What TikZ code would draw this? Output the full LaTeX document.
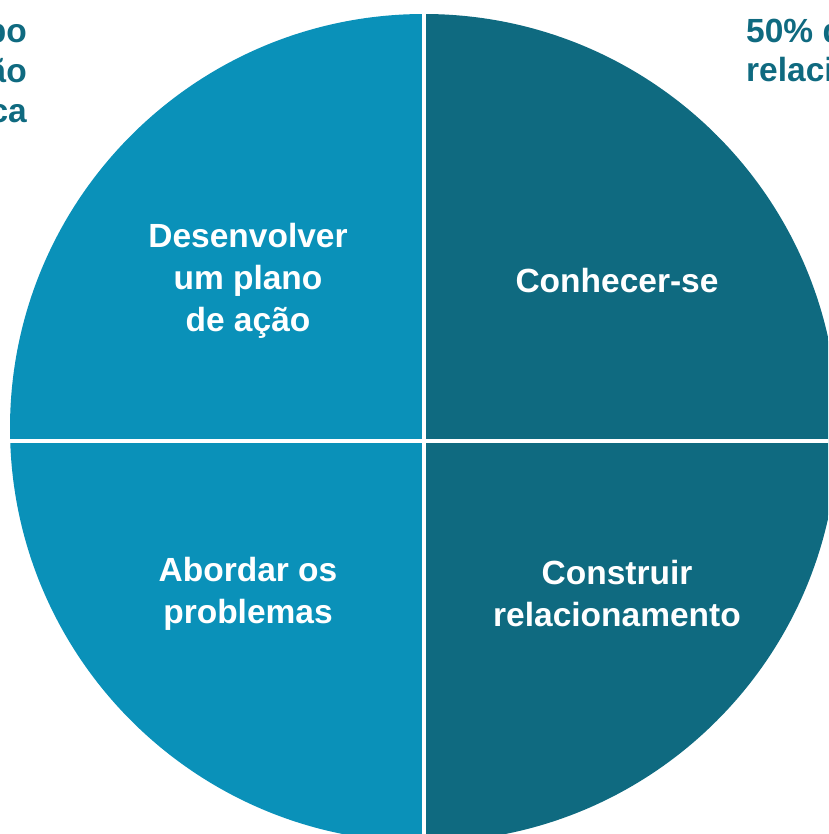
\documentclass[tikz,border=0pt]{standalone}
\usepackage{fontspec}
\setmainfont{Liberation Sans}
\definecolor{lightteal}{HTML}{0A91B9}
\definecolor{darkteal}{HTML}{0F6A80}
\tikzset{
  quad/.style={text=white, font=\bfseries\fontsize{33.5}{42}\selectfont, align=center, inner sep=0pt},
  corner/.style={text=darkteal, font=\bfseries\fontsize{33.5}{40}\selectfont, inner sep=0pt},
  divider/.style={white, line width=3.2pt}
}
\begin{document}
\begin{tikzpicture}[x=1pt, y=-1pt]
\useasboundingbox (0,0) rectangle (828,834);
\clip (0,0) rectangle (828,834);
\begin{scope}
  \clip (424,428) circle [radius=414];
  \fill[lightteal] (0,0) rectangle (424,900);
  \fill[darkteal] (424,0) rectangle (900,900);
\end{scope}
\draw[divider] (424,0) -- (424,900);
\draw[divider] (0,441) -- (900,441);
\node[quad] (plan) at (248,281) {Desenvolver\\um plano\\de ação};
\node[quad] (know) at (617,281) {Conhecer-se};
\node[quad] (prob) at (248,594) {Abordar os\\problemas};
\node[quad] (rel) at (617,594) {Construir\\relacionamento};
\node[corner, anchor=base east] (tl1) at (27,43) {po};
\node[corner, anchor=base east] (tl2) at (27,83) {ão};
\node[corner, anchor=base east] (tl3) at (27,123) {ca};
\node[corner, anchor=base west] (tr1) at (746,43) {50\% d};
\node[corner, anchor=base west] (tr2) at (746,82) {relaci};
\end{tikzpicture}
\end{document}
